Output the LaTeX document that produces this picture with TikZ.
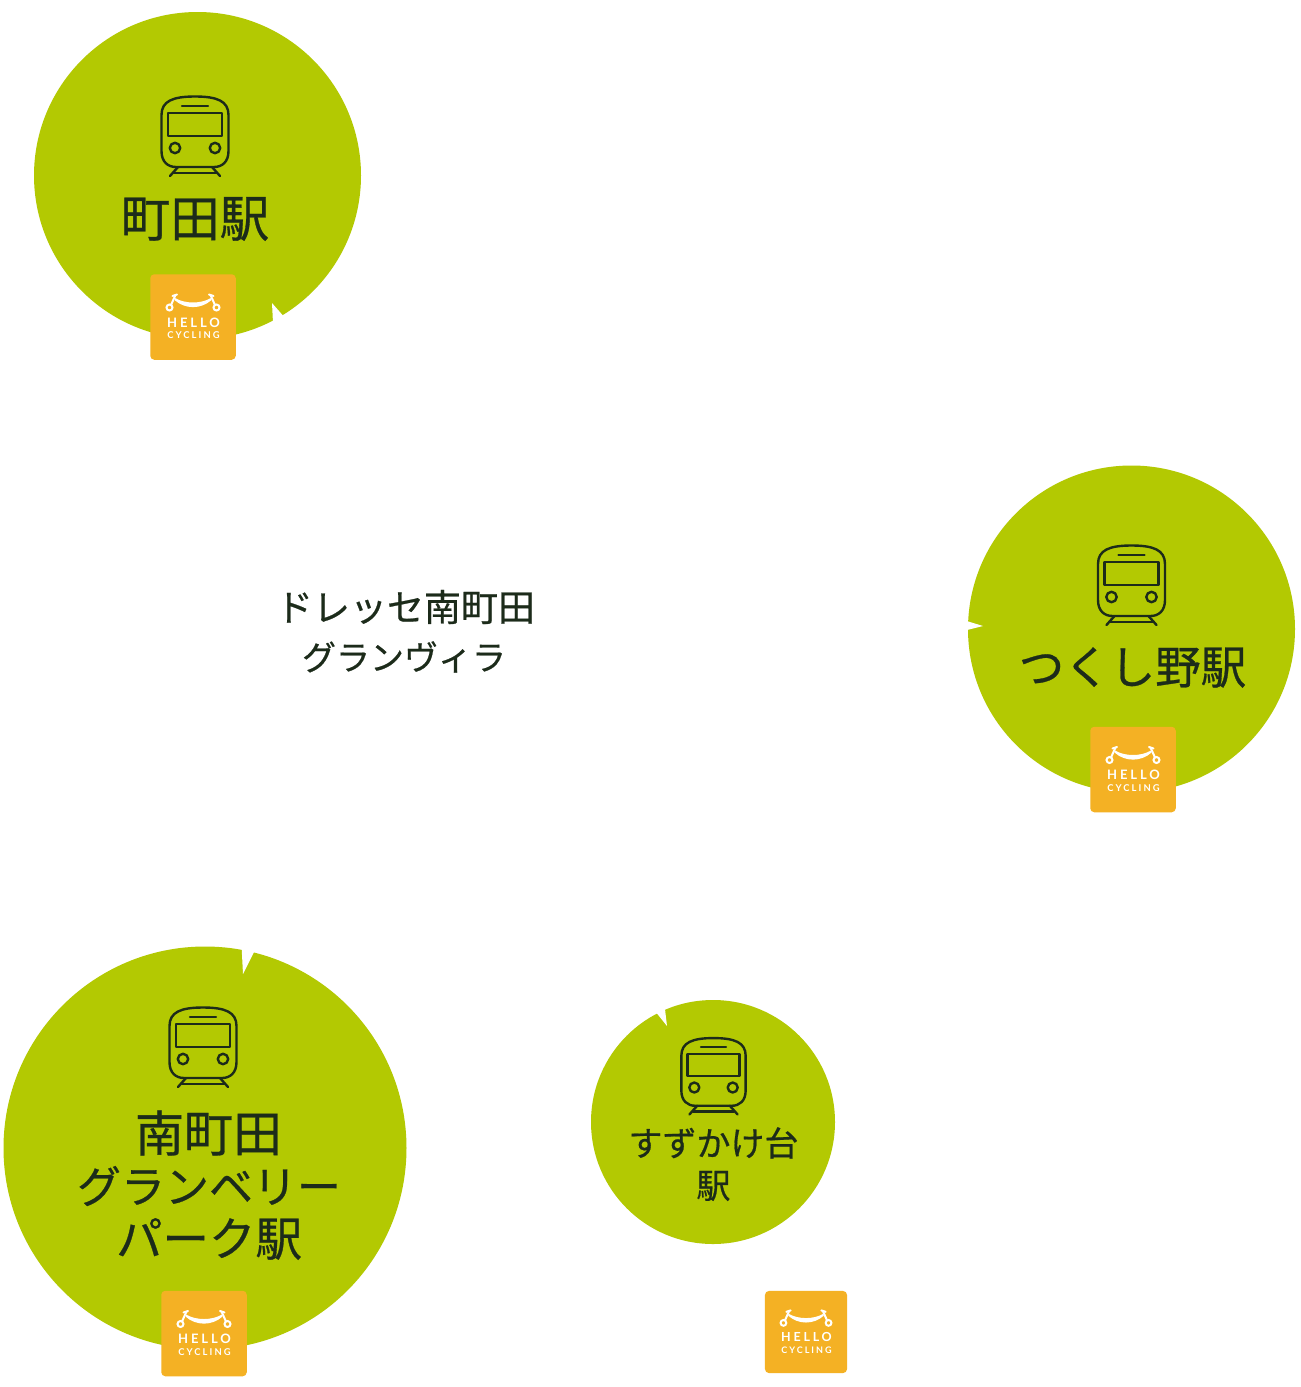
\documentclass[tikz,border=0pt]{standalone}
\usepackage{fontspec}
\newfontfamily\jpfont[FakeBold=0.6]{Noto Sans CJK JP}
\newfontfamily\logofont[LetterSpace=22]{Lato}
\definecolor{leaf}{HTML}{B3C902}
\definecolor{ink}{HTML}{1C2B1A}
\definecolor{amber}{HTML}{F4B124}
\newcommand{\jpsize}[1]{\fontsize{#1}{#1}\selectfont}
\tikzset{
  station/.style={circle,fill=leaf,inner sep=0pt,minimum size=#1},
  notch/.style={fill=white,draw=none},
  label/.style={text=ink,align=center,inner sep=0pt,font=\jpfont},
  pics/trainicon/.style={code={
    \begin{scope}[draw=ink,line width=2.4pt,line cap=round,line join=round]
      \draw (-33.5,-21) .. controls (-33.5,-35) and (-22,-39.5) .. (0,-39.5)
            .. controls (22,-39.5) and (33.5,-35) .. (33.5,-21)
            -- (33.5,15) .. controls (33.5,26) and (27,31) .. (19,31)
            -- (-19,31) .. controls (-27,31) and (-33.5,26) .. (-33.5,15) -- cycle;
      \draw (-27,-23) rectangle (27,0);
      \draw (-13,-30) -- (13,-30);
      \draw (-20,12) circle (5.2);
      \draw (20,12) circle (5.2);
      \draw (-17,31) -- (-25,40);
      \draw (17,31) -- (25,40);
      \draw (-21,37) -- (21,37);
    \end{scope}
  }},
  pics/hellologo/.style={code={
    \node[fill=amber,rounded corners=4pt,minimum size=85.5pt,inner sep=0pt,transform shape] (box) at (0,0) {};
    \begin{scope}[draw=white,line width=2pt,line cap=round]
      \draw (-23.5,-9.5) circle (3);
      \draw (23.5,-9.5) circle (3);
      \draw (-22,-12) -- (-17.5,-22);
      \draw (22,-12) -- (17.5,-22);
      \draw (-20.5,-21) -- (-16,-22.5);
      \draw (20.5,-21) -- (16,-22.5);
    \end{scope}
    \fill[white] (-18,-19) .. controls (-8,-13) and (8,-13) .. (18,-19)
      -- (18.5,-17) .. controls (8,-7.5) and (-8,-7.5) .. (-18.5,-17) -- cycle;
    \node[text=white,inner sep=0pt,transform shape,font=\logofont\bfseries\fontsize{13}{13}\selectfont] (hello) at (0.5,5.5) {HELLO};
    \node[text=white,inner sep=0pt,transform shape,font=\logofont\bfseries\fontsize{9.4}{9}\selectfont] (cycling) at (0.5,18.5) {CYCLING};
  }}
}
\begin{document}
\begin{tikzpicture}[x=1pt,y=-1pt]
\useasboundingbox[fill=white] (0,0) rectangle (1301,1387);

% stations
\node[station=327pt] (machida) at (197.5,175.5) {};
\node[station=327pt] (tsukushino) at (1131.5,629) {};
\node[station=403pt] (grandberry) at (205,1148) {};
\node[station=244pt] (suzukake) at (713,1122) {};

% notches
\fill[notch] (272,303) -- (273,323) -- (286,319) -- cycle;
\fill[notch] (983,626) -- (965,620.5) -- (965,630.5) -- cycle;
\fill[notch] (243,974) -- (241.5,945) -- (255,950) -- cycle;
\fill[notch] (667,1026) -- (655,1011) -- (664.5,1005) -- cycle;

% train icons
\pic (trainA) at (195,136) {trainicon};
\pic (trainB) at (1131.5,585) {trainicon};
\pic (trainC) at (203,1047) {trainicon};
\pic[scale=0.96] (trainD) at (713.5,1076) {trainicon};

% labels
\node[label,font=\jpfont\jpsize{49.5}] (tA) at (195,219) {町田駅};
\node[label,font=\jpfont\jpsize{45.5}] (tB) at (1132.5,667.5) {つくし野駅};
\node[label] (tC1) at (208.5,1133) {\jpsize{49}南町田};
\node[label] (tC2) at (209,1186) {\jpsize{44}グランベリー};
\node[label] (tC3) at (209,1239) {\jpsize{46.5}パーク駅};
\node[label] (tD1) at (713.5,1143) {\jpsize{34}すずかけ台};
\node[label] (tD2) at (713.5,1186) {\jpsize{34}駅};
\node[label] (tE1) at (405.5,607) {\jpsize{37}ドレッセ南町田};
\node[label] (tE2) at (404,657) {\jpsize{34}グランヴィラ};

% logos
\pic (logoA) at (193,317) {hellologo};
\pic (logoB) at (1133,769.5) {hellologo};
\pic (logoC) at (204,1333.5) {hellologo};
\pic[scale=0.96] (logoD) at (806,1332) {hellologo};
\end{tikzpicture}
\end{document}
